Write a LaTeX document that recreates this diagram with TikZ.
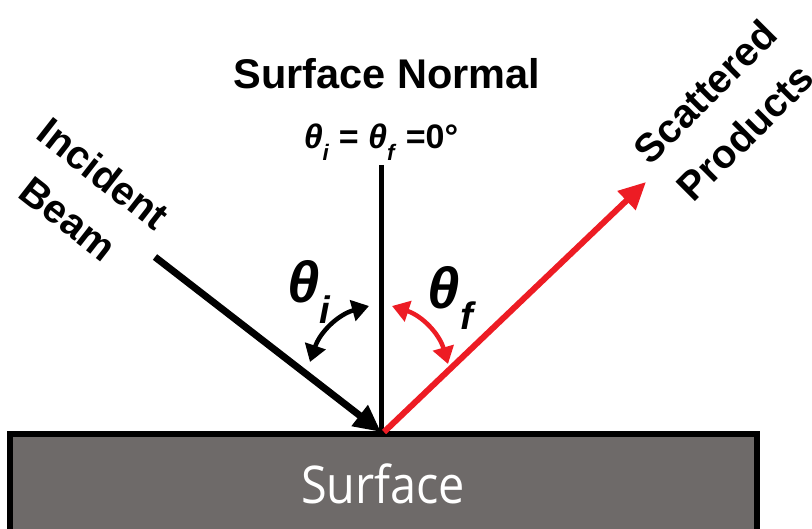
\documentclass[tikz,border=0pt]{standalone}
\usepackage{fontspec}
\setmainfont{Liberation Sans}
\newfontfamily\surffont{Open Sans}
\usetikzlibrary{arrows.meta}
\definecolor{surfgray}{HTML}{6E6A69}
\definecolor{beamred}{HTML}{ED1C24}
\newcommand\thsym[1]{\textbf{\textit{θ}}\raisebox{-0.36em}{\scalebox{0.66}{\textbf{\textit{#1}}}}}
\tikzset{
  lbl/.style={inner sep=0pt, align=center},
  bigtip/.style={-{Triangle[length=27pt,width=25pt]}},
  curvearr/.style={{Triangle[length=17pt,width=21pt]}-{Triangle[length=17pt,width=21pt]}, line width=4.5pt},
}
\begin{document}
\begin{tikzpicture}[x=1pt,y=-1pt]
\useasboundingbox (0,0) rectangle (812,529);
% surface
\draw[fill=surfgray, line width=6.5pt] (10,434) rectangle (757,532);
\node[lbl, text=white, font=\surffont\fontsize{52}{52}\selectfont] (surf) at (383,484) {\scalebox{0.9}[1]{Surface}};
% coordinates
\coordinate (foot) at (381,432);
\coordinate (redfoot) at (384,432);
\coordinate (ntop) at (381,165);
\coordinate (ibeam) at (155,257);
\coordinate (stip) at (646,182);
% normal
\draw[line width=5pt] (ntop) -- (foot);
% incident beam
\draw[line width=7pt, bigtip] (ibeam) -- (foot);
% scattered
\draw[line width=6pt, beamred, bigtip] (redfoot) -- (stip);
% angle arrows
\coordinate (ia) at (310,362);
\coordinate (ib) at (369,306);
\coordinate (fa) at (392,306);
\coordinate (fb) at (448,364);
\draw[curvearr] (ia) to[bend left=28] (ib);
\draw[curvearr, beamred] (fa) to[bend left=28] (fb);
% labels
\node[lbl, font=\bfseries\fontsize{41.5}{41.5}\selectfont] (normal) at (387,74) {Surface Normal};
\node[lbl, font=\fontsize{34}{34}\selectfont] (eq) at (381,142) {\thsym{i} \textbf{=} \thsym{f} \textbf{=0°}};
\node[lbl, font=\fontsize{58}{58}\selectfont] (thi) at (309,292) {\thsym{i}};
\node[lbl, font=\fontsize{58}{58}\selectfont] (thf) at (452,298) {\thsym{f}};
\node[lbl, rotate=-38, font=\bfseries\fontsize{40}{57}\selectfont] (inc) at (86,196) {Incident\\Beam};
\node[lbl, rotate=45, font=\bfseries\fontsize{40}{57}\selectfont] (scat) at (725,112) {Scattered\\Products};
\end{tikzpicture}
\end{document}
